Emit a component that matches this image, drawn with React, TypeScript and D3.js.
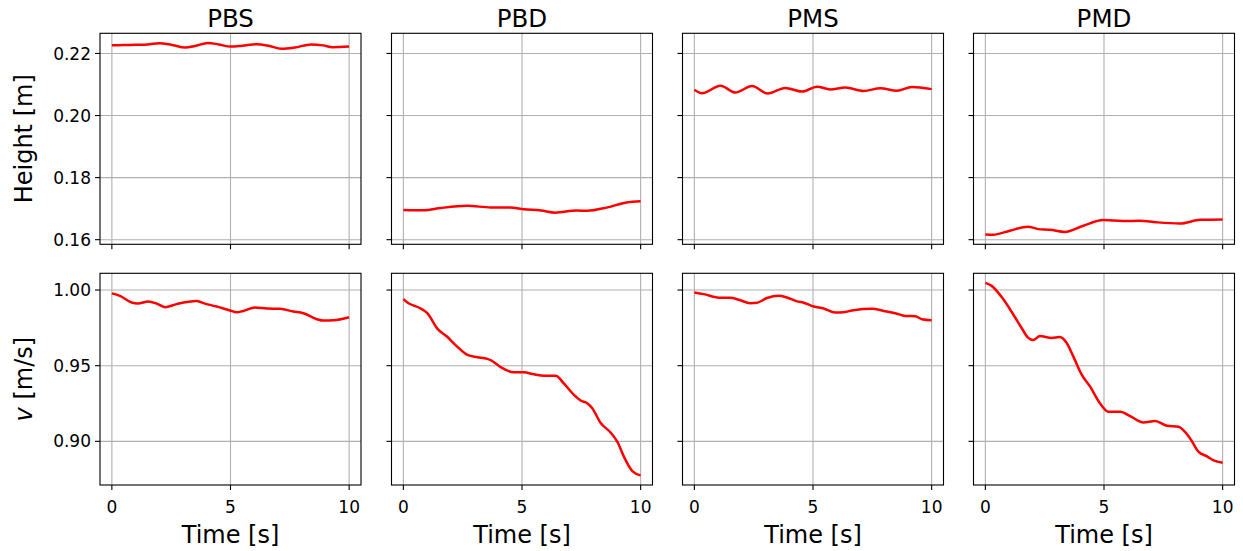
import React from "react";
import * as d3 from "d3";

type Pt = [number, number];

// column titles
const titles = ["PBS", "PBD", "PMS", "PMD"];
const xTicks = [0, 5, 10];
const heightTicks = [0.16, 0.18, 0.2, 0.22];
const speedTicks = [0.9, 0.95, 1.0];

// Height [m] over time [s]
const pbsHeight: Pt[] = [
  [0, 0.2226], [0.5, 0.2227], [1, 0.2228], [1.5, 0.2229], [2, 0.2233], [2.5, 0.2228],
  [3.1, 0.2219], [3.5, 0.2224], [4.05, 0.2234], [4.5, 0.2229], [5, 0.2222], [5.5, 0.2225],
  [6.1, 0.223], [6.6, 0.2225], [7.15, 0.2215], [7.7, 0.2219], [8.4, 0.2229], [8.9, 0.2226],
  [9.3, 0.222], [10, 0.2222],
];
const pbdHeight: Pt[] = [
  [0, 0.1696], [0.87, 0.1695], [1.57, 0.1702], [2.7, 0.1709], [3.68, 0.1704], [4.5, 0.1704],
  [5.08, 0.1698], [5.8, 0.1694], [6.4, 0.1687], [7.3, 0.1694], [7.75, 0.1693], [8.6, 0.1704],
  [9.4, 0.172], [10, 0.1724],
];
const pmsHeight: Pt[] = [
  [0, 0.2083], [0.32, 0.2072], [1.1, 0.2096], [1.73, 0.2074], [2.43, 0.2095], [3.09, 0.2071],
  [3.83, 0.2089], [4.54, 0.2077], [5.17, 0.2093], [5.73, 0.2084], [6.36, 0.209], [7.13, 0.2079],
  [7.84, 0.2088], [8.54, 0.208], [9.17, 0.2092], [10, 0.2085],
];
const pmdHeight: Pt[] = [
  [0, 0.1617], [0.32, 0.1616], [1.03, 0.1629], [1.8, 0.1642], [2.23, 0.1634], [2.72, 0.1632],
  [3.35, 0.1625], [4.13, 0.1645], [4.97, 0.1663], [5.8, 0.166], [6.5, 0.1661], [7.2, 0.1656],
  [8.2, 0.1652], [9.06, 0.1664], [10, 0.1665],
];

// v [m/s] over time [s]
const pbsSpeed: Pt[] = [
  [0, 0.9978], [0.34, 0.9962], [0.83, 0.9918], [1.1, 0.9911], [1.53, 0.9924], [1.88, 0.9911],
  [2.24, 0.9887], [2.73, 0.9907], [3.57, 0.9927], [3.99, 0.9907], [4.42, 0.9891], [4.98, 0.9865],
  [5.26, 0.9853], [5.54, 0.9862], [6.03, 0.9885], [6.53, 0.9878], [7.09, 0.9876], [7.65, 0.9858],
  [8.07, 0.9847], [8.64, 0.9807], [8.92, 0.9798], [9.34, 0.98], [10, 0.982],
];
const pbdSpeed: Pt[] = [
  [0, 0.994], [0.17, 0.9918], [0.73, 0.9878], [1.01, 0.9847], [1.43, 0.9745], [1.85, 0.9691],
  [2.2, 0.9636], [2.7, 0.9571], [3.12, 0.9556], [3.54, 0.9545], [3.68, 0.9536], [4.1, 0.9491],
  [4.66, 0.9456], [5.08, 0.9456], [5.5, 0.9443], [5.93, 0.9434], [6.42, 0.9434], [6.77, 0.9381],
  [7.19, 0.9307], [7.47, 0.927], [7.75, 0.9252], [7.96, 0.9219], [8.31, 0.9123], [8.74, 0.9057],
  [9.02, 0.8997], [9.3, 0.8897], [9.65, 0.8803], [10, 0.8775],
];
const pmsSpeed: Pt[] = [
  [0, 0.9984], [0.39, 0.9973], [1.1, 0.9949], [1.52, 0.9949], [1.87, 0.9936], [2.36, 0.9913],
  [2.64, 0.9916], [3.06, 0.9947], [3.55, 0.9962], [3.9, 0.9951], [4.33, 0.9925], [4.61, 0.9916],
  [5.03, 0.9891], [5.45, 0.9878], [5.94, 0.9851], [6.29, 0.9853], [6.71, 0.9867], [7.49, 0.9876],
  [7.98, 0.9862], [8.47, 0.9847], [8.89, 0.9829], [9.31, 0.9827], [9.59, 0.9807], [10, 0.98],
];
const pmdSpeed: Pt[] = [
  [0, 1.0047], [0.25, 1.0029], [0.75, 0.994], [1.17, 0.984], [1.52, 0.9751], [1.8, 0.9685],
  [2.01, 0.9669], [2.3, 0.9696], [2.79, 0.9683], [3.14, 0.9689], [3.42, 0.9651], [3.7, 0.9563],
  [4.06, 0.9441], [4.41, 0.9363], [4.83, 0.9252], [5.18, 0.9196], [5.68, 0.9196], [6.1, 0.9167],
  [6.66, 0.9125], [7.15, 0.9134], [7.65, 0.9103], [8.14, 0.9096], [8.63, 0.9019], [8.99, 0.893],
  [9.34, 0.8901], [9.62, 0.8874], [10, 0.8859],
];

const heightSeries = [pbsHeight, pbdHeight, pmsHeight, pmdHeight];
const speedSeries = [pbsSpeed, pbdSpeed, pmsSpeed, pmdSpeed];

const W = 1243;
const H = 551;
const panelW = 261;
const panelLefts = [100, 391.5, 682.5, 973.5];
const rows = [
  { top: 33.3, bottom: 244.3 },
  { top: 273.3, bottom: 485 },
];
const font = "DejaVu Sans, sans-serif";
const red = "#ff0000";
const gridColor = "#b0b0b0";

// matplotlib-ish 5% margins
const padded = (lo: number, hi: number): [number, number] => {
  const m = (hi - lo) * 0.05;
  return [lo - m, hi + m];
};

const allX = heightSeries.flat().map((d) => d[0]);
const xDomain = padded(d3.min(allX)!, d3.max(allX)!);
const hVals = heightSeries.flat().map((d) => d[1]);
const vVals = speedSeries.flat().map((d) => d[1]);
const hDomain = padded(d3.min(hVals)!, d3.max(hVals)!);
const vDomain = padded(d3.min(vVals)!, d3.max(vVals)!);

const Panel = ({ row, col, data }: { row: number; col: number; data: Pt[] }) => {
  const left = panelLefts[col];
  const { top, bottom } = rows[row];
  const x = d3.scaleLinear().domain(xDomain).range([left, left + panelW]);
  const y = d3
    .scaleLinear()
    .domain(row === 0 ? hDomain : vDomain)
    .range([bottom, top]);
  const yTicks = row === 0 ? heightTicks : speedTicks;
  const line = d3
    .line<Pt>()
    .x((d) => x(d[0]))
    .y((d) => y(d[1]))
    .curve(d3.curveMonotoneX);

  return (
    <g>
      {/* grid */}
      {xTicks.map((t) => (
        <line key={"gx" + t} x1={x(t)} x2={x(t)} y1={top} y2={bottom} stroke={gridColor} strokeWidth={1.1} />
      ))}
      {yTicks.map((t) => (
        <line key={"gy" + t} x1={left} x2={left + panelW} y1={y(t)} y2={y(t)} stroke={gridColor} strokeWidth={1.1} />
      ))}
      <path d={line(data) ?? ""} fill="none" stroke={red} strokeWidth={2.5} strokeLinejoin="round" />
      <rect x={left} y={top} width={panelW} height={bottom - top} fill="none" stroke="#000" strokeWidth={1.1} />
      {/* ticks */}
      {xTicks.map((t) => (
        <line key={"tx" + t} x1={x(t)} x2={x(t)} y1={bottom} y2={bottom + 5} stroke="#000" strokeWidth={1.1} />
      ))}
      {yTicks.map((t) => (
        <line key={"ty" + t} x1={left - 5} x2={left} y1={y(t)} y2={y(t)} stroke="#000" strokeWidth={1.1} />
      ))}
      {row === 1 &&
        xTicks.map((t) => (
          <text key={"lx" + t} x={x(t)} y={bottom + 27.5} textAnchor="middle" fontSize={17} fontFamily={font} fill="#000">
            {t}
          </text>
        ))}
      {col === 0 &&
        yTicks.map((t) => (
          <text key={"ly" + t} x={left - 9} y={y(t)} dy="0.36em" textAnchor="end" fontSize={17} fontFamily={font} fill="#000">
            {t.toFixed(2)}
          </text>
        ))}
      {row === 0 && (
        <text x={left + panelW / 2} y={26.5} textAnchor="middle" fontSize={24.5} fontFamily={font} fill="#000">
          {titles[col]}
        </text>
      )}
      {row === 1 && (
        <text x={left + panelW / 2} y={543} textAnchor="middle" fontSize={24} fontFamily={font} fill="#000">
          Time [s]
        </text>
      )}
    </g>
  );
};

export default function App() {
  return (
    <div style={{ position: "absolute", left: 0, top: 0 }}>
      <svg width={W} height={H} viewBox={`0 0 ${W} ${H}`} style={{ display: "block", background: "#fff" }}>
        <rect width={W} height={H} fill="#fff" />
        {heightSeries.map((d, i) => (
          <Panel key={"h" + i} row={0} col={i} data={d} />
        ))}
        {speedSeries.map((d, i) => (
          <Panel key={"v" + i} row={1} col={i} data={d} />
        ))}
        <text
          transform={`translate(32, ${(rows[0].top + rows[0].bottom) / 2}) rotate(-90)`}
          textAnchor="middle"
          fontSize={24}
          fontFamily={font}
          fill="#000"
        >
          Height [m]
        </text>
        <text
          transform={`translate(32, ${(rows[1].top + rows[1].bottom) / 2}) rotate(-90)`}
          textAnchor="middle"
          fontSize={24}
          fontFamily={font}
          fill="#000"
        >
          <tspan fontStyle="italic">v</tspan> [m/s]
        </text>
      </svg>
    </div>
  );
}
